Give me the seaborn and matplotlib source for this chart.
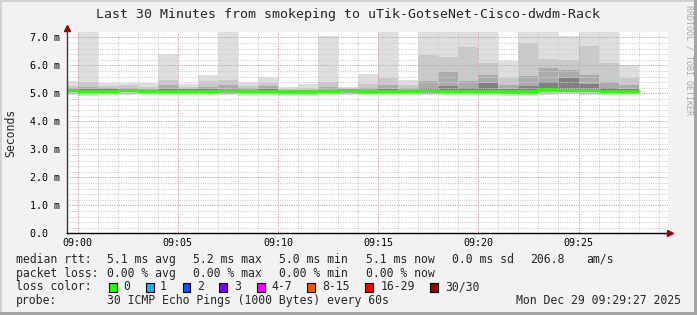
import numpy as np
import pandas as pd
import matplotlib
matplotlib.use("Agg")
import matplotlib.pyplot as plt
from matplotlib.patches import Rectangle
import seaborn as sns

# ---------------- data (minutes after 09:00, one smoke column per minute) -------------
minutes = list(range(-1, 28))
rtt_max = [5.44, 7.20, 5.38, 5.36, 5.36, 6.40, 5.32, 5.65, 7.20, 5.39,
           5.60, 5.22, 5.32, 7.04, 5.22, 5.69, 7.20, 5.49, 7.20, 7.20,
           7.20, 7.20, 6.16, 7.20, 7.20, 7.03, 7.20, 7.20, 6.00]
rtt_p90 = [5.25, 5.40, 5.25, 5.28, 5.22, 5.47, 5.22, 5.45, 5.48, 5.25,
           5.38, 5.15, 5.18, 5.40, 5.18, 5.35, 5.55, 5.30, 6.38, 6.29,
           6.65, 6.08, 5.55, 6.80, 6.24, 6.20, 6.68, 6.08, 5.55]
rtt_p75 = [5.18, 5.22, 5.18, 5.20, 5.15, 5.30, 5.17, 5.22, 5.30, 5.20,
           5.25, 5.12, 5.13, 5.22, 5.15, 5.20, 5.30, 5.20, 5.44, 5.75,
           5.43, 5.66, 5.30, 5.61, 5.90, 5.84, 5.67, 5.40, 5.30]
rtt_p60 = [5.15, 5.14, 5.14, 5.16, 5.12, 5.16, 5.14, 5.14, 5.16, 5.13,
           5.15, 5.10, 5.11, 5.13, 5.14, 5.12, 5.14, 5.12, 5.20, 5.25,
           5.20, 5.37, 5.15, 5.25, 5.40, 5.55, 5.35, 5.20, 5.15]
rtt_median = [5.12, 5.09, 5.10, 5.12, 5.08, 5.10, 5.10, 5.10, 5.11, 5.09,
              5.10, 5.07, 5.08, 5.08, 5.11, 5.08, 5.09, 5.08, 5.11, 5.10,
              5.10, 5.10, 5.07, 5.07, 5.15, 5.13, 5.12, 5.10, 5.09]
rtt_p40 = [5.08, 5.05, 5.06, 5.08, 5.05, 5.06, 5.06, 5.06, 5.07, 5.05,
           5.06, 5.03, 5.04, 5.05, 5.07, 5.04, 5.05, 5.05, 5.07, 5.06,
           5.06, 5.06, 5.03, 5.03, 5.10, 5.09, 5.08, 5.06, 5.05]
rtt_p25 = [5.04, 5.00, 5.02, 5.03, 5.02, 5.02, 5.01, 5.02, 5.02, 5.00,
           5.02, 4.98, 4.99, 5.02, 5.02, 4.99, 5.01, 5.02, 5.02, 5.03,
           5.02, 5.01, 4.99, 4.98, 5.05, 5.05, 5.03, 5.03, 5.02]
rtt_p10 = [4.99, 4.94, 4.98, 4.97, 4.99, 4.98, 4.96, 4.97, 4.97, 4.96,
           4.98, 4.94, 4.95, 4.98, 4.97, 4.96, 4.97, 4.98, 4.97, 4.99,
           4.97, 4.97, 4.96, 4.94, 4.99, 5.00, 4.97, 4.99, 4.99]
rtt_min = [4.95, 4.90, 4.95, 4.93, 4.96, 4.95, 4.93, 4.94, 4.93, 4.92,
           4.95, 4.90, 4.91, 4.95, 4.93, 4.93, 4.94, 4.95, 4.93, 4.95,
           4.93, 4.93, 4.92, 4.90, 4.95, 4.96, 4.93, 4.95, 4.96]

x_ticks = [0, 5, 10, 15, 20, 25]
x_labels = ["09:00", "09:05", "09:10", "09:15", "09:20", "09:25"]
y_ticks = [0, 1, 2, 3, 4, 5, 6, 7]
y_labels = ["0.0\u00a0\u00a0", "1.0 m", "2.0 m", "3.0 m", "4.0 m", "5.0 m", "6.0 m", "7.0 m"]

title = "Last 30 Minutes from smokeping to uTik-GotseNet-Cisco-dwdm-Rack"
loss_labels = ["0", "1", "2", "3", "4-7", "8-15", "16-29", "30/30"]
loss_colors = ["#26ff00", "#00b8ff", "#0059ff", "#7e00ff", "#ff00ff", "#ff5500", "#ff0000", "#a10000"]

# ---------------- style ----------------
sns.set_style("white")
plt.rcParams["font.family"] = ["DejaVu Sans Mono"]

W, H = 697, 315
fig = plt.figure(figsize=(W / 100, H / 100), dpi=100)
fig.patch.set_facecolor("#f2f2f2")

x0, x1, ytop, ybot = 67, 668, 32.3, 233.3
ax = fig.add_axes([x0 / W, 1 - ybot / H, (x1 - x0) / W, (ybot - ytop) / H])
ax.set_facecolor("white")

df = pd.DataFrame({"minute": minutes, "max": rtt_max, "p90": rtt_p90, "p75": rtt_p75,
                   "p60": rtt_p60, "median": rtt_median, "p40": rtt_p40, "p25": rtt_p25,
                   "p10": rtt_p10, "min": rtt_min})

bands = [("min", "max", "#dedede"), ("p10", "p90", "#c9c9c9"),
         ("p25", "p75", "#ababab"), ("p40", "p60", "#808080")]
for lo, hi, col in bands:
    ax.bar(df["minute"], df[hi] - df[lo], bottom=df[lo], width=1.0, align="edge",
           color=col, linewidth=0, zorder=1)

# median line (step, extended to end of last interval)
med = pd.DataFrame({"minute": minutes + [minutes[-1] + 1],
                    "median": rtt_median + [rtt_median[-1]]})
sns.lineplot(data=med, x="minute", y="median", drawstyle="steps-post",
             color=loss_colors[0], linewidth=2.0, ax=ax, zorder=4)

ax.set_xlim(-32 / 60, 29 + 28 / 60)
ax.set_ylim(0, 7.18)

ax.set_xticks(x_ticks)
ax.set_xticklabels(x_labels)
ax.set_yticks(y_ticks)
ax.set_yticklabels(y_labels)
ax.set_xticks(np.arange(0, 30, 1), minor=True)
ax.set_yticks(np.arange(0, 7.2, 0.2), minor=True)
ax.tick_params(axis="both", which="both", length=0, labelsize=7.2, colors="black")
ax.tick_params(axis="x", pad=3.2)
ax.tick_params(axis="y", pad=5)

ax.set_axisbelow(False)
ax.grid(which="minor", color="#cfcfcf", linestyle=(0, (1.2, 1.2)), linewidth=0.7)
ax.grid(which="major", color="#e09a9a", linestyle=(0, (1.2, 1.2)), linewidth=0.7)

for s in ["top", "right"]:
    ax.spines[s].set_visible(False)
ax.spines["bottom"].set_color("black")
ax.spines["bottom"].set_linewidth(1.0)
ax.spines["left"].set_color("#3a3a3a")
ax.spines["left"].set_linewidth(1.0)
ax.spines["left"].set_bounds(0, 7.3)
for s in ["bottom", "left"]:
    ax.spines[s].set_zorder(5)
ax.set_xlabel("")
ax.set_ylabel("")

ax.plot([1.004], [0], marker=">", color="#9b0000", markersize=4.5, transform=ax.transAxes, clip_on=False, zorder=6)
ax.plot([0], [1.02], marker="^", color="#9b0000", markersize=4.5, transform=ax.transAxes, clip_on=False, zorder=6)

def ftext(x, y, s, **kw):
    fig.text(x / W, 1 - y / H, s, **kw)

ftext(348, 17.7, title, ha="center", va="baseline", fontsize=9.5)
ftext(10.5, 132.5, "Seconds", ha="center", va="center", rotation=90, fontsize=8.3)
ftext(688.5, 5, "RRDTOOL / TOBI OETIKER", ha="center", va="top", rotation=270,
      fontsize=6, color="#a8a8a8")

fs = 8.3
rows = [262.7, 276.7, 290.0, 304.3]
ftext(16, rows[0], "median rtt:", fontsize=fs, va="baseline")
for xx, s in [(107, "5.1 ms avg"), (193, "5.2 ms max"), (279, "5.0 ms min"),
              (365.7, "5.1 ms now"), (451.7, "0.0 ms sd"), (530, "206.8"), (586, "am/s")]:
    ftext(xx, rows[0], s, fontsize=fs, va="baseline")
ftext(16, rows[1], "packet loss:", fontsize=fs, va="baseline")
for xx, s in [(107, "0.00 % avg"), (193, "0.00 % max"), (279, "0.00 % min"), (365.7, "0.00 % now")]:
    ftext(xx, rows[1], s, fontsize=fs, va="baseline")
ftext(16, rows[2], "loss color:", fontsize=fs, va="baseline")
box_x = [108.7, 145.7, 182.7, 219.3, 256.7, 307.3, 365.3, 430.3]
lab_x = [123.3, 160, 197, 234, 271, 322.3, 380.7, 445.3]
for bx, lx, lab, col in zip(box_x, lab_x, loss_labels, loss_colors):
    fig.add_artist(Rectangle((bx / W, 1 - 291.5 / H), 7.8 / W, 8.6 / H,
                             transform=fig.transFigure, facecolor=col,
                             edgecolor="black", linewidth=0.8))
    ftext(lx, rows[2], lab, fontsize=fs, va="baseline")
ftext(16, rows[3], "probe:", fontsize=fs, va="baseline")
ftext(107, rows[3], "30 ICMP Echo Pings (1000 Bytes) every 60s", fontsize=fs, va="baseline")
ftext(681, rows[3], "Mon Dec 29 09:29:27 2025", fontsize=fs, va="baseline", ha="right")

# outer frame
fig.add_artist(Rectangle((0, 1 - 2 / H), 1, 2 / H, transform=fig.transFigure, facecolor="#d2d2d2", lw=0))
fig.add_artist(Rectangle((0, 0), 2 / W, 1, transform=fig.transFigure, facecolor="#d2d2d2", lw=0))
fig.add_artist(Rectangle((1 - 3 / W, 0), 3 / W, 1, transform=fig.transFigure, facecolor="#a4a4a4", lw=0))
fig.add_artist(Rectangle((0, 0), 1, 3 / H, transform=fig.transFigure, facecolor="#a4a4a4", lw=0))

fig.savefig("out.png", dpi=100, facecolor=fig.get_facecolor())
